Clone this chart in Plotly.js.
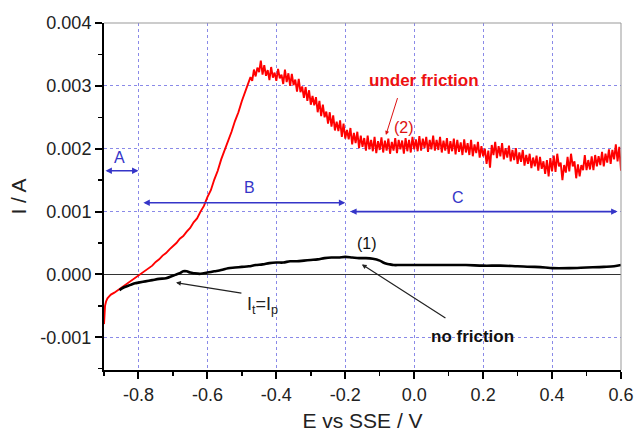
<!DOCTYPE html>
<html>
<head>
<meta charset="utf-8">
<script src="https://cdn.plot.ly/plotly-3.0.1.min.js"></script>
<style>html,body{margin:0;padding:0;background:#fff;}#chart{width:635px;height:432px;}</style>
</head>
<body>
<div id="chart"></div>
<script>
// Curve (2): under friction (E vs SSE / V, I / A)
const frictionE = [
-0.900,-0.899,-0.897,-0.894,-0.890,-0.885,-0.880,-0.870,-0.860,-0.850,-0.840,-0.830,-0.820,-0.810,-0.800,-0.790,-0.780,-0.770,-0.760,-0.750,-0.740,-0.730,-0.720,-0.710,-0.700,-0.690,-0.680,-0.670,-0.660,-0.650,-0.640,-0.630,-0.620,-0.610,-0.600,-0.590,-0.580,-0.570,-0.560,-0.550,-0.540,-0.530,-0.520,-0.510,-0.500,-0.490,-0.480,
-0.475,-0.470,-0.465,-0.460,-0.455,-0.450,-0.445,-0.440,
-0.435,-0.430,-0.425,-0.420,-0.415,-0.410,-0.405,-0.400,-0.395,-0.390,-0.385,-0.380,-0.375,-0.370,-0.365,-0.360,-0.355,-0.350,-0.345,-0.340,
-0.335,-0.330,-0.325,-0.320,-0.315,-0.310,-0.305,-0.300,-0.295,-0.290,-0.285,-0.280,-0.275,-0.270,-0.265,-0.260,-0.255,-0.250,-0.245,-0.240,
-0.235,-0.230,-0.225,-0.220,-0.215,-0.210,-0.205,-0.200,-0.195,-0.190,-0.185,-0.180,-0.175,-0.170,-0.165,-0.160,-0.155,-0.150,-0.145,-0.140,
-0.135,-0.130,-0.125,-0.120,-0.115,-0.110,-0.105,-0.100,-0.095,-0.090,-0.085,-0.080,-0.075,-0.070,-0.065,-0.060,-0.055,-0.050,-0.045,-0.040,
-0.035,-0.030,-0.025,-0.020,-0.015,-0.010,-0.005,0.000,0.005,0.010,0.015,0.020,0.025,0.030,0.035,0.040,0.045,0.050,0.055,0.060,
0.065,0.070,0.075,0.080,0.085,0.090,0.095,0.100,0.105,0.110,0.115,0.120,0.125,0.130,0.135,0.140,0.145,0.150,0.155,0.160,
0.165,0.170,0.175,0.180,0.185,0.190,0.195,0.200,0.205,0.210,0.215,0.220,0.225,0.230,0.235,0.240,0.245,0.250,0.255,0.260,
0.265,0.270,0.275,0.280,0.285,0.290,0.295,0.300,0.305,0.310,0.315,0.320,0.325,0.330,0.335,0.340,0.345,0.350,0.355,0.360,
0.365,0.370,0.375,0.380,0.385,0.390,0.395,0.400,0.405,0.410,0.415,0.420,0.425,0.430,0.435,0.440,0.445,0.450,0.455,0.460,
0.465,0.470,0.475,0.480,0.485,0.490,0.495,0.500,0.505,0.510,0.515,0.520,0.525,0.530,0.535,0.540,0.545,0.550,0.555,0.560,
0.565,0.570,0.575,0.580,0.585,0.590,0.595,0.600
];
const frictionI = [
-0.00079,-0.00062,-0.00050,-0.00043,-0.00038,-0.00035,-0.00032,-0.00029,-0.00025,-0.00021,-0.00018,-0.00013,-0.00010,-0.00005,-0.00002,0.00002,0.00006,0.00011,0.00014,0.00020,0.00024,0.00030,0.00034,0.00040,0.00045,0.00050,0.00057,0.00061,0.00068,0.00074,0.00083,0.00089,0.00100,0.00109,0.00123,0.00134,0.00151,0.00165,0.00183,0.00197,0.00214,0.00227,0.00244,0.00258,0.00276,0.00290,0.00306,
0.00314,0.00308,0.00326,0.00315,0.00329,0.00322,0.00340,0.00318,
0.00333,0.00316,0.00325,0.00309,0.00330,0.00313,0.00321,0.00308,0.00327,0.00312,0.00318,0.00303,0.00326,0.00306,0.00320,0.00300,0.00319,0.00301,0.00310,0.00291,
0.00311,0.00290,0.00299,0.00281,0.00298,0.00276,0.00293,0.00270,0.00284,0.00269,0.00282,0.00258,0.00276,0.00252,0.00270,0.00250,0.00259,0.00240,0.00258,0.00235,
0.00253,0.00229,0.00243,0.00228,0.00245,0.00219,0.00240,0.00216,0.00230,0.00215,0.00233,0.00207,0.00225,0.00209,0.00227,0.00201,0.00221,0.00203,0.00217,0.00197,
0.00221,0.00199,0.00214,0.00196,0.00219,0.00193,0.00212,0.00198,0.00218,0.00194,0.00213,0.00197,0.00216,0.00192,0.00211,0.00197,0.00217,0.00193,0.00214,0.00199,
0.00213,0.00192,0.00217,0.00196,0.00214,0.00194,0.00219,0.00199,0.00215,0.00196,0.00220,0.00197,0.00216,0.00201,0.00219,0.00195,0.00214,0.00199,0.00221,0.00197,
0.00214,0.00198,0.00219,0.00194,0.00213,0.00197,0.00217,0.00192,0.00212,0.00196,0.00216,0.00191,0.00214,0.00195,0.00210,0.00190,0.00215,0.00194,0.00209,0.00190,
0.00214,0.00188,0.00207,0.00193,0.00211,0.00186,0.00204,0.00188,0.00200,0.00176,0.00197,0.00170,0.00206,0.00190,0.00211,0.00185,0.00204,0.00188,0.00209,0.00183,
0.00201,0.00186,0.00205,0.00180,0.00198,0.00182,0.00201,0.00176,0.00194,0.00179,0.00198,0.00173,0.00190,0.00176,0.00192,0.00169,0.00186,0.00172,0.00189,0.00165,
0.00187,0.00168,0.00180,0.00160,0.00182,0.00156,0.00185,0.00164,0.00189,0.00163,0.00192,0.00172,0.00178,0.00150,0.00174,0.00162,0.00187,0.00164,0.00192,0.00172,
0.00180,0.00153,0.00175,0.00156,0.00174,0.00166,0.00190,0.00166,0.00182,0.00167,0.00188,0.00166,0.00190,0.00172,0.00188,0.00174,0.00195,0.00172,0.00192,0.00178,
0.00199,0.00176,0.00198,0.00183,0.00207,0.00180,0.00203,0.00165
];

// Curve (1): no friction
const noFrictionE = [-0.855,-0.850,-0.840,-0.830,-0.820,-0.810,-0.800,-0.780,-0.760,-0.740,-0.720,-0.700,-0.690,-0.680,-0.670,-0.660,-0.650,-0.640,-0.620,-0.600,-0.580,-0.560,-0.540,-0.520,-0.500,-0.480,-0.460,-0.440,-0.420,-0.400,-0.380,-0.360,-0.340,-0.320,-0.300,-0.280,-0.260,-0.240,-0.220,-0.200,-0.180,-0.160,-0.140,-0.120,-0.100,-0.090,-0.080,-0.070,-0.060,-0.040,0.000,0.050,0.100,0.150,0.200,0.250,0.300,0.350,0.380,0.400,0.450,0.500,0.550,0.580,0.600];
const noFrictionI = [-0.00025,-0.00023,-0.00020,-0.00018,-0.00016,-0.00014,-0.00013,-0.00011,-0.00009,-0.00007,-0.00006,-0.00002,0.00000,0.00002,0.00005,0.00005,0.00003,0.00002,0.00001,0.00003,0.00005,0.00007,0.00010,0.00011,0.00012,0.00013,0.00015,0.00016,0.00018,0.00019,0.00019,0.00021,0.00021,0.00022,0.00023,0.00024,0.00026,0.00027,0.00027,0.00028,0.00027,0.00026,0.00026,0.00025,0.00022,0.00019,0.00017,0.00016,0.00015,0.00015,0.00015,0.00015,0.00015,0.00015,0.00014,0.00014,0.00013,0.00012,0.00011,0.00010,0.00010,0.00011,0.00012,0.00013,0.00015];

// Region markers A, B, C: [start E, end E, I level]
const regionLabels = ['A','B','C'];
const regionStart = [-0.900,-0.790,-0.190];
const regionEnd = [-0.800,-0.200,0.590];
const regionLevel = [0.00165,0.00114,0.00100];
const regionLabelE = [-0.854,-0.479,0.127];
const regionLabelI = [0.00186,0.00138,0.00122];

const xTickVals = [-0.8,-0.6,-0.4,-0.2,0.0,0.2,0.4,0.6];
const xTickText = ['-0.8','-0.6','-0.4','-0.2','0.0','0.2','0.4','0.6'];
const yTickVals = [-0.001,0.000,0.001,0.002,0.003,0.004];
const yTickText = ['-0.001','0.000','0.001','0.002','0.003','0.004'];

const FONT = 'Arial, "Liberation Sans", sans-serif';
const BLUE = '#3535c8';

const traces = [
  {x: frictionE, y: frictionI, type: 'scatter', mode: 'lines', name: 'under friction',
   line: {color: '#ff0000', width: 1.9}, showlegend: false},
  {x: noFrictionE, y: noFrictionI, type: 'scatter', mode: 'lines', name: 'no friction',
   line: {color: '#000000', width: 2.6, shape: 'spline'}, showlegend: false}
];

const annotations = [];
for (let i = 0; i < regionLabels.length; i++) {
  annotations.push({x: regionEnd[i], y: regionLevel[i], ax: regionStart[i], ay: regionLevel[i],
    xref: 'x', yref: 'y', axref: 'x', ayref: 'y', text: '', showarrow: true,
    arrowhead: 2, startarrowhead: 2, arrowside: 'end+start', arrowsize: 0.8, startarrowsize: 0.8,
    arrowwidth: 1.6, arrowcolor: BLUE});
  annotations.push({x: regionLabelE[i], y: regionLabelI[i], xref: 'x', yref: 'y',
    text: regionLabels[i], showarrow: false, font: {family: FONT, size: 16, color: BLUE}});
}
annotations.push(
  {x: 0.028, y: 0.00308, xref: 'x', yref: 'y', text: '<b>under friction</b>', showarrow: false,
   font: {family: FONT, size: 17, color: '#ee1111'}},
  {x: -0.082, y: 0.00222, ax: -0.047, ay: 0.00283, xref: 'x', yref: 'y', axref: 'x', ayref: 'y',
   text: '', showarrow: true, arrowhead: 2, arrowsize: 0.8, arrowwidth: 1, arrowcolor: '#dd1111'},
  {x: -0.030, y: 0.00233, xref: 'x', yref: 'y', text: '(2)', showarrow: false,
   font: {family: FONT, size: 16, color: '#dd1111'}},
  {x: -0.137, y: 0.00050, xref: 'x', yref: 'y', text: '(1)', showarrow: false,
   font: {family: FONT, size: 16, color: '#111'}},
  {x: 0.168, y: -0.00098, xref: 'x', yref: 'y', text: '<b>no friction</b>', showarrow: false,
   font: {family: FONT, size: 17, color: '#111'}},
  {x: -0.152, y: 0.00016, ax: 0.095, ay: -0.00071, xref: 'x', yref: 'y', axref: 'x', ayref: 'y',
   text: '', showarrow: true, arrowhead: 2, arrowsize: 0.8, arrowwidth: 1.2, arrowcolor: '#222'},
  {x: -0.440, y: -0.00050, xref: 'x', yref: 'y', text: 'I<sub>t</sub>=I<sub>p</sub>', showarrow: false,
   font: {family: FONT, size: 18, color: '#222'}},
  {x: -0.691, y: -0.00013, ax: -0.497, ay: -0.00030, xref: 'x', yref: 'y', axref: 'x', ayref: 'y',
   text: '', showarrow: true, arrowhead: 2, arrowsize: 0.8, arrowwidth: 1.2, arrowcolor: '#222'}
);

const layout = {
  width: 635, height: 432,
  margin: {l: 104, r: 14, t: 23, b: 62},
  paper_bgcolor: '#ffffff', plot_bgcolor: '#ffffff',
  font: {family: FONT, color: '#222'},
  showlegend: false,
  xaxis: {
    range: [-0.9, 0.6], tickvals: xTickVals, ticktext: xTickText,
    showline: true, linecolor: '#000', linewidth: 2,
    ticks: 'outside', ticklen: 7, tickwidth: 2, tickcolor: '#000',
    minor: {dtick: 0.1, tick0: 0, ticks: 'outside', ticklen: 4, tickwidth: 1.5, tickcolor: '#000', showgrid: false},
    showgrid: true, gridcolor: '#8a8ae8', griddash: 'dot', gridwidth: 1,
    zeroline: false,
    tickfont: {family: FONT, size: 18, color: '#222'},
    title: {text: 'E vs SSE / V', font: {family: FONT, size: 21, color: '#222'}, standoff: 12}
  },
  yaxis: {
    range: [-0.00152, 0.004], tickvals: yTickVals, ticktext: yTickText,
    showline: true, linecolor: '#000', linewidth: 2,
    ticks: 'outside', ticklen: 7, tickwidth: 2, tickcolor: '#000',
    minor: {dtick: 0.0005, tick0: 0, ticks: 'outside', ticklen: 4, tickwidth: 1.5, tickcolor: '#000', showgrid: false},
    showgrid: true, gridcolor: '#8a8ae8', griddash: 'dot', gridwidth: 1,
    zeroline: true, zerolinecolor: '#333', zerolinewidth: 1,
    tickfont: {family: FONT, size: 18, color: '#222'},
    title: {text: 'I / A', font: {family: FONT, size: 21, color: '#222'}, standoff: 8}
  },
  shapes: [
    {type: 'line', xref: 'paper', yref: 'paper', x0: 0, x1: 1, y0: 1, y1: 1, line: {color: '#999', width: 1}},
    {type: 'line', xref: 'paper', yref: 'paper', x0: 1, x1: 1, y0: 0, y1: 1, line: {color: '#999', width: 1}}
  ],
  annotations: annotations
};

Plotly.newPlot('chart', traces, layout, {staticPlot: true, displayModeBar: false});
</script>
</body>
</html>
